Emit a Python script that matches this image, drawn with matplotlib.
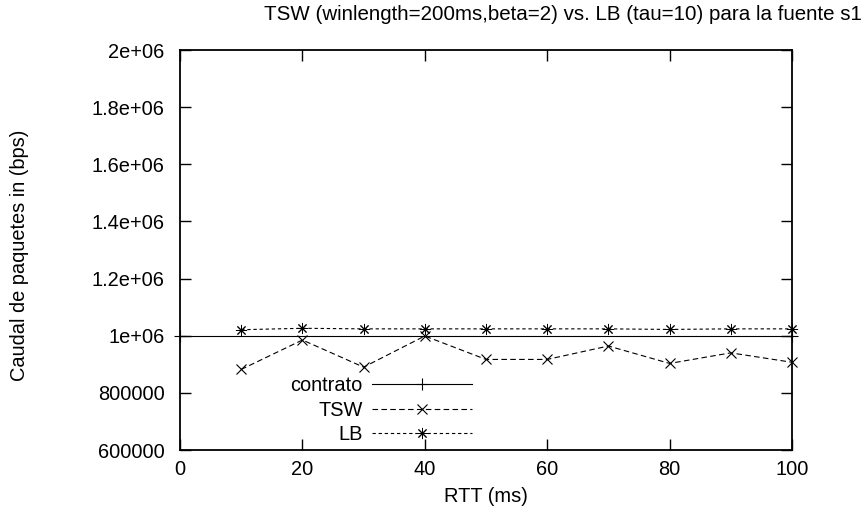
import numpy as np
import matplotlib.pyplot as plt

plt.rcParams['font.family'] = ['Liberation Sans', 'DejaVu Sans']

# RTT values (ms)
rtt = [10, 20, 30, 40, 50, 60, 70, 80, 90, 100]
tsw = [882000, 985000, 890000, 999000, 917000, 917000, 964000, 903000, 940000, 907000]
lb = [1021000, 1026000, 1024000, 1024000, 1024000, 1024000, 1024000, 1022000, 1024000, 1024000]
contrato_x = [0, 100]
contrato_y = [1000000, 1000000]

yticks = [600000, 800000, 1000000, 1200000, 1400000, 1600000, 1800000, 2000000]
ytick_labels = ['600000', '800000', '1e+06', '1.2e+06', '1.4e+06', '1.6e+06', '1.8e+06', '2e+06']
xticks = [0, 20, 40, 60, 80, 100]

fs = 14.4

fig = plt.figure(figsize=(8.66, 5.2), dpi=100)
ax = fig.add_axes([180 / 866, 70 / 520, 612 / 866, 400 / 520])

ax.plot(contrato_x, contrato_y, color='black', lw=0.8, marker='+', ms=9,
        mew=0.8, clip_on=False, label='contrato')
ax.plot(rtt, tsw, color='black', lw=0.8, dashes=(5, 3), marker='x', ms=7,
        mew=0.8, clip_on=False, label='TSW')
ax.plot(rtt, lb, color='black', lw=0.8, dashes=(3, 2.5), marker=(8, 2, 0), ms=8,
        mew=0.7, clip_on=False, label='LB')

ax.set_xlim(0, 100)
ax.set_ylim(600000, 2000000)
ax.set_xticks(xticks)
ax.set_yticks(yticks)
ax.set_yticklabels(ytick_labels)
ax.tick_params(direction='in', length=8, width=1, top=True, right=True,
               labelsize=fs, colors='black')
ax.tick_params(axis='y', pad=11)
ax.tick_params(axis='x', pad=7)
for sp in ax.spines.values():
    sp.set_linewidth(1.3)

leg = ax.legend(loc='upper left', bbox_to_anchor=(0.18, 0.185), markerfirst=False,
                frameon=False, fontsize=fs, handlelength=5.0, handletextpad=0.5,
                labelspacing=0.28, borderpad=0, borderaxespad=0)

fig.text(563 / 866, 1 - 15 / 520, 'TSW (winlength=200ms,beta=2) vs. LB (tau=10) para la fuente s1',
         ha='center', va='center', fontsize=14.8)
fig.text(486 / 866, 1 - 497 / 520, 'RTT (ms)', ha='center', va='center', fontsize=fs)
fig.text(20 / 866, 1 - 255 / 520, 'Caudal de paquetes in (bps)', ha='center', va='center',
         rotation=90, fontsize=fs)

plt.savefig('out.png', dpi=100)
